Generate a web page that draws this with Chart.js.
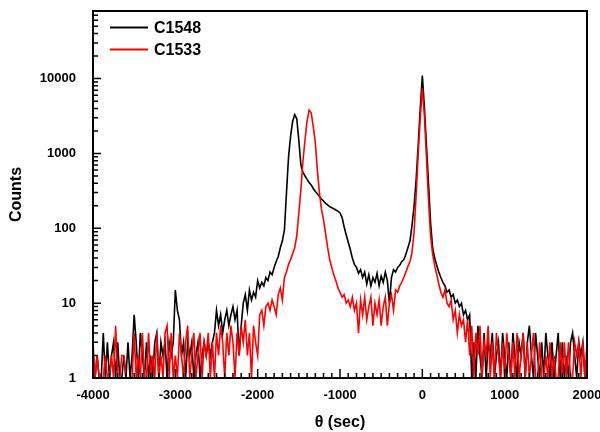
<!DOCTYPE html>
<html>
<head>
<meta charset="utf-8">
<script src="https://cdn.jsdelivr.net/npm/chart.js@4.4.0/dist/chart.umd.min.js"></script>
<style>
  body { margin: 0; background: #fff; }
</style>
</head>
<body>
<canvas id="rocking" width="600" height="432"></canvas>
<script>
// theta grid (sec): first point and spacing
var thetaStart = -4000;
var thetaStep = 25;

var countsC1548 = [
  2, 1, 2, 1, 1, 4, 1, 3, 1, 2,
  3, 1, 3, 1, 1, 2, 1, 3, 1, 2,
  7, 3, 1, 4, 2, 1, 3, 1, 2, 1,
  3, 4, 1, 3, 2, 3, 1, 3, 2, 3,
  15, 8, 6, 2, 3, 1, 3, 2, 3, 1,
  2, 3, 1, 2, 3, 2, 3, 2, 3, 4,
  8, 5, 7, 4, 6, 8, 5, 7, 9, 6,
  8, 2, 5, 10, 13, 8, 15, 11, 14, 12,
  20, 16, 19, 17, 22, 20, 26, 24, 30, 36,
  42, 55, 68, 95, 300, 900, 1700, 2700, 3300, 2900,
  1500, 700, 560, 500, 450, 410, 380, 340, 310, 290,
  265, 245, 232, 215, 205, 195, 188, 182, 176, 170,
  160, 140, 105, 82, 65, 52, 40, 33, 30, 25,
  28, 22, 26, 18, 24, 17, 22, 19, 25, 17,
  23, 19, 26, 20, 10, 22, 28, 26, 30, 32,
  36, 38, 45, 55, 68, 110, 200, 450, 1300, 4000,
  11000, 4200, 1300, 400, 120, 55, 40, 32, 26, 22,
  19, 17, 14, 15, 12, 13, 10, 11, 9, 10,
  7, 8, 6, 7, 1, 3, 1, 5, 2, 1,
  4, 1, 3, 2, 4, 1, 2, 3, 1, 4,
  2, 1, 3, 1, 4, 2, 1, 3, 2, 4,
  1, 3, 5, 2, 1, 4, 2, 1, 3, 1,
  4, 2, 1, 3, 1, 2, 4, 1, 3, 1,
  2, 1, 3, 4, 2, 1, 3, 2, 3, 1,
  1
];

var countsC1533 = [
  3, 1, 2, 1, 1, 1, 2, 1, 1, 2,
  1, 5, 1, 1, 2, 2, 1, 1, 1, 1,
  4, 1, 2, 1, 4, 1, 1, 4, 1, 2,
  1, 4, 1, 2, 1, 4, 5, 1, 4, 1,
  2, 1, 4, 2, 1, 3, 5, 1, 2, 4,
  1, 2, 4, 1, 3, 2, 4, 1, 3, 1,
  4, 2, 5, 3, 1, 4, 2, 5, 3, 1,
  4, 2, 5, 3, 6, 2, 4, 1, 5, 3,
  2, 7, 8, 5, 9, 10, 8, 11, 9, 7,
  13, 16, 11, 22, 26, 33, 38, 46, 55, 80,
  160, 330, 800, 1500, 2700, 3800, 3500, 2300, 1400, 600,
  300, 180, 130, 85, 55, 38, 30, 24, 20, 16,
  14, 12, 13, 10, 11, 9, 12, 8, 10, 4,
  11, 7, 12, 6, 9, 12, 5, 10, 7, 11,
  5, 9, 12, 5, 10, 13, 8, 15, 14, 17,
  19, 22, 26, 31, 36, 48, 90, 280, 1000, 3000,
  7400, 3200, 900, 240, 80, 45, 32, 24, 18, 14,
  12, 15, 10, 9, 11, 6, 8, 4, 7, 5,
  6, 3, 6, 2, 5, 1, 4, 2, 5, 1,
  3, 2, 5, 1, 3, 1, 4, 2, 1, 3,
  1, 4, 2, 1, 3, 1, 4, 1, 2, 4,
  1, 3, 1, 2, 4, 1, 1, 3, 1, 1,
  2, 1, 3, 1, 2, 1, 1, 3, 1, 3,
  1, 3, 1, 1, 3, 2, 3, 1, 3, 1,
  3
];

var yTickLabels = [1, 10, 100, 1000, 10000];
var xTickLabels = [-4000, -3000, -2000, -1000, 0, 1000, 2000];
var seriesNames = ['C1548', 'C1533'];
var seriesColors = ['#000000', '#ff0000'];

var FONT = "'Liberation Sans', Arial, sans-serif";

function toPoints(counts) {
  return counts.map(function (c, i) {
    return { x: thetaStart + i * thetaStep, y: c };
  });
}

// box round the plot, inward ticks, and the legend
var framePlugin = {
  id: 'frame',
  afterDraw: function (chart) {
    var a = chart.chartArea;
    var ctx = chart.ctx;
    var xs = chart.scales.x;
    var ys = chart.scales.y;
    ctx.save();
    ctx.strokeStyle = '#000';
    ctx.lineWidth = 1.5;
    ctx.beginPath();
    for (var e = 0; e <= 4; e++) {
      for (var m = 1; m <= 9; m++) {
        var v = m * Math.pow(10, e);
        if (v > ys.max) break;
        var py = ys.getPixelForValue(v);
        var len = m === 1 ? 8 : 5;
        ctx.moveTo(a.left, py);
        ctx.lineTo(a.left + len, py);
      }
    }
    for (var t = xs.min; t <= xs.max; t += 100) {
      var px = xs.getPixelForValue(t);
      var l = t % 1000 === 0 ? 9 : 5;
      ctx.moveTo(px, a.bottom);
      ctx.lineTo(px, a.bottom - l);
    }
    ctx.stroke();

    ctx.lineWidth = 2;
    ctx.strokeRect(a.left, a.top, a.right - a.left, a.bottom - a.top);

    ctx.font = 'bold 16px ' + FONT;
    ctx.textBaseline = 'middle';
    ctx.textAlign = 'left';
    for (var i = 0; i < seriesNames.length; i++) {
      var y = 28 + i * 22;
      ctx.strokeStyle = seriesColors[i];
      ctx.beginPath();
      ctx.moveTo(110, y - 0.5);
      ctx.lineTo(148, y - 0.5);
      ctx.stroke();
      ctx.fillStyle = '#000';
      ctx.fillText(seriesNames[i], 154, y + 0.5);
    }
    ctx.restore();
  }
};

var ctx = document.getElementById('rocking');
var rockingChart = new Chart(ctx, {
  type: 'line',
  data: {
    datasets: [
      {
        label: seriesNames[0],
        data: toPoints(countsC1548),
        borderColor: seriesColors[0],
        borderWidth: 1.6,
        pointRadius: 0,
        tension: 0,
        fill: false,
        order: 1
      },
      {
        label: seriesNames[1],
        data: toPoints(countsC1533),
        borderColor: seriesColors[1],
        borderWidth: 1.6,
        pointRadius: 0,
        tension: 0,
        fill: false,
        order: 0
      }
    ]
  },
  options: {
    responsive: false,
    animation: false,
    layout: { padding: { top: 11, right: 13, left: 0, bottom: 0 } },
    plugins: {
      legend: { display: false },
      tooltip: { enabled: false }
    },
    scales: {
      x: {
        type: 'linear',
        min: -4000,
        max: 2000,
        afterFit: function (scale) {
          scale.height = 54;
          scale.paddingLeft = 0;
          scale.paddingRight = 0;
        },
        afterBuildTicks: function (scale) {
          scale.ticks = xTickLabels.map(function (v) { return { value: v }; });
        },
        ticks: {
          color: '#000',
          font: { family: FONT, size: 13, weight: 'bold' },
          padding: 2,
          maxRotation: 0,
          autoSkip: false,
          callback: function (v) { return String(v); }
        },
        grid: { display: false },
        border: { display: false },
        title: {
          display: true,
          text: 'θ (sec)',
          color: '#000',
          font: { family: FONT, size: 16, weight: 'bold' },
          padding: { top: 0, bottom: 0 }
        }
      },
      y: {
        type: 'logarithmic',
        min: 1,
        max: 80000,
        afterFit: function (scale) {
          scale.width = 93;
          scale.paddingTop = 0;
          scale.paddingBottom = 0;
        },
        afterBuildTicks: function (scale) {
          scale.ticks = yTickLabels.map(function (v) { return { value: v }; });
        },
        ticks: {
          color: '#000',
          font: { family: FONT, size: 13, weight: 'bold' },
          padding: 9,
          autoSkip: false,
          callback: function (v) { return String(v); }
        },
        grid: { display: false },
        border: { display: false },
        title: {
          display: true,
          text: 'Counts',
          color: '#000',
          font: { family: FONT, size: 16, weight: 'bold' },
          padding: { top: 7, bottom: 0 }
        }
      }
    }
  },
  plugins: [framePlugin]
});
</script>
</body>
</html>
